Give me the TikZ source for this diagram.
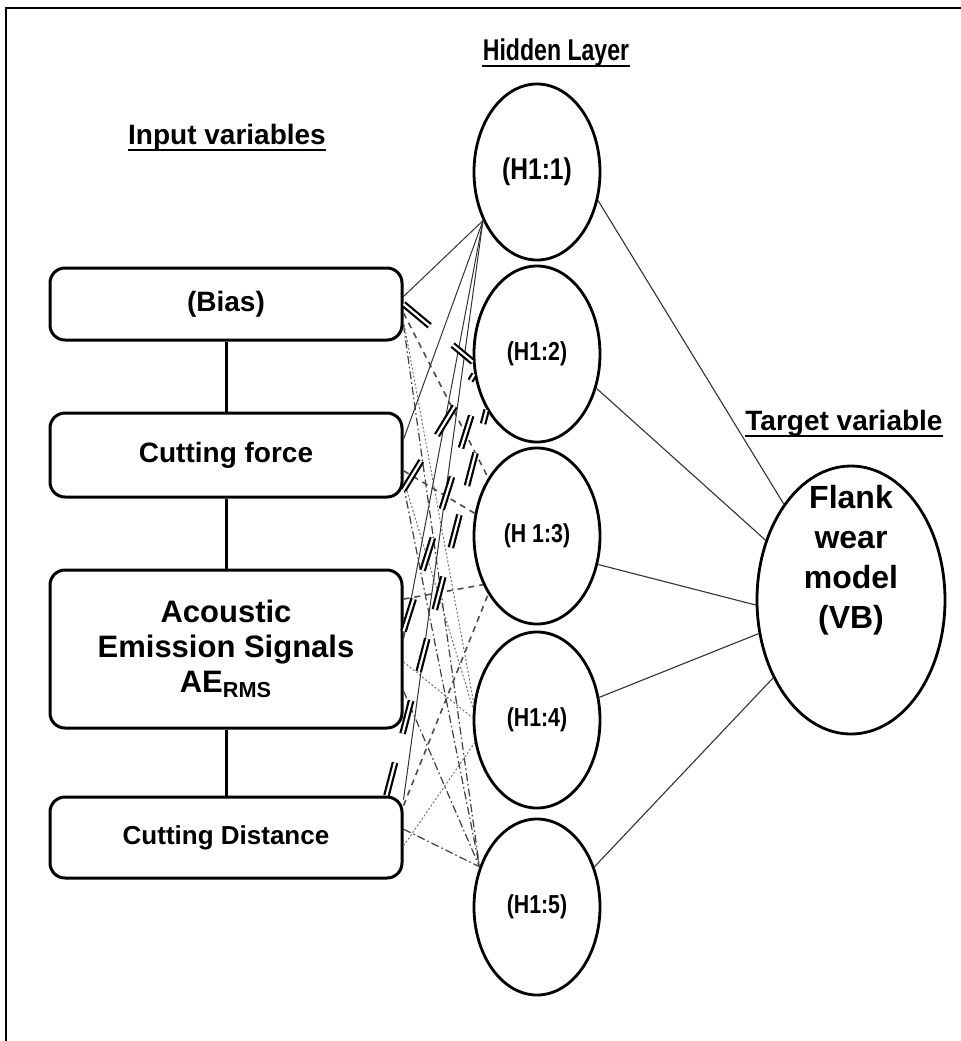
\documentclass[tikz,border=0pt]{standalone}
\usepackage{fontspec}
\usepackage{graphicx}
\setmainfont{Liberation Sans}
\usetikzlibrary{shapes.geometric,calc}

\begin{document}
\begin{tikzpicture}[x=0.5pt,y=-0.5pt,
  inbox/.style={draw, line width=1.5pt, rounded corners=7.5pt, minimum width=176pt,
    inner sep=0pt, align=center, font=\bfseries\fontsize{14}{17.5}\selectfont},
  hid/.style={draw, ellipse, line width=1.4pt, minimum width=63pt, minimum height=88pt,
    inner sep=0pt, font=\bfseries\fontsize{13}{15}\selectfont},
  outn/.style={draw, ellipse, line width=1.4pt, minimum width=94pt, minimum height=134pt, inner sep=0pt},
  outtxt/.style={inner sep=0pt, align=center, font=\bfseries\fontsize{16}{20}\selectfont},
  title/.style={inner sep=0pt, font=\bfseries\fontsize{14}{16}\selectfont},
  uline/.style={line width=1.1pt},
  link/.style={line width=1.5pt},
  w1/.style={line width=0.5pt, black!80},
  w2/.style={draw=black, line width=1.1pt, double=white, double distance=1.1pt, dash pattern=on 17pt off 15pt},
  w3/.style={line width=0.8pt, black!70, dash pattern=on 3pt off 2.5pt},
  w4/.style={line width=0.5pt, black!55, dash pattern=on 1pt off 1pt},
  w5/.style={line width=0.6pt, black!75, dash pattern=on 4pt off 1.5pt on 0.8pt off 1.5pt},
  wout/.style={line width=0.55pt, black!80}
]
\useasboundingbox (0,0) rectangle (961,1041);
\fill[white] (0,0) rectangle (961,1041);

% frame
\draw[line width=1.1pt] (6,1041) -- (6,8) -- (961,8);

% titles
\node[title] (tin) at (227,137) {Input variables};
\node[title, font=\bfseries\fontsize{15}{17}\selectfont] (thid) at (556,53) {\scalebox{0.77}[1]{Hidden Layer}};
\node[title] (ttar) at (844,423) {Target variable};
\foreach \t in {tin,thid,ttar}
  \draw[uline] ([yshift=-2.8pt]\t.base west) -- ([yshift=-2.8pt]\t.base east);

% input boxes
\node[inbox, minimum height=36pt] (bias) at (226,304) {(Bias)};
\node[inbox, minimum height=42pt] (cf) at (226,455) {Cutting force};
\node[inbox, minimum height=79pt, font=\bfseries\fontsize{15.5}{17.5}\selectfont] (ae) at (226,649)
  {Acoustic\\Emission Signals\\AE\textsubscript{RMS}};
\node[inbox, minimum height=40.5pt, font=\bfseries\fontsize{13}{16}\selectfont] (cd) at (226,837.5) {Cutting Distance};

\draw[link] (bias) -- (cf);
\draw[link] (cf) -- (ae);
\draw[link] (ae) -- (cd);

% hidden layer
\node[hid, font=\bfseries\fontsize{15}{17}\selectfont] (h1) at (537,172) {\scalebox{0.82}[1]{(H1:1)}};
\node[hid] (h2) at (537,354) {\scalebox{0.82}[1]{(H1:2)}};
\node[hid] (h3) at (537,536) {\scalebox{0.82}[1]{(H 1:3)}};
\node[hid] (h4) at (537,720) {\scalebox{0.82}[1]{(H1:4)}};
\node[hid] (h5) at (537,907) {\scalebox{0.82}[1]{(H1:5)}};

% output
\node[outn] (out) at (851,600) {};
\node[outtxt] (outl) at (851,560) {Flank\\wear\\model\\(VB)};

% weights into H1:4
\draw[w4] ($(bias.north east)!0.72!(bias.south east)$) -- (h4.165);
\draw[w4] ($(cf.north east)!0.78!(cf.south east)$) -- (h4.170);
\draw[w4] ($(ae.north east)!0.58!(ae.south east)$) -- (h4.178);
\draw[w4] ($(cd.north east)!0.6!(cd.south east)$) -- (h4.200);

% weights into H1:5
\draw[w5] ($(bias.north east)!0.78!(bias.south east)$) -- (h5.145);
\draw[w5] ($(cf.north east)!0.85!(cf.south east)$) -- (h5.145);
\draw[w5] ($(ae.north east)!0.76!(ae.south east)$) -- (h5.145);
\draw[w5] ($(cd.north east)!0.4!(cd.south east)$) -- (h5.145);

% weights into H1:3
\draw[w3] ($(bias.north east)!0.62!(bias.south east)$) -- (h3.130);
\draw[w3] ($(cf.north east)!0.68!(cf.south east)$) -- (h3.160);
\draw[w3] ($(ae.north east)!0.19!(ae.south east)$) -- (h3.222);
\draw[w3] ($(cd.north east)!0.12!(cd.south east)$) -- (h3.230);

% weights into H1:1
\draw[w1] ($(bias.north east)!0.4!(bias.south east)$) -- (h1.222);
\draw[w1] ($(cf.north east)!0.32!(cf.south east)$) -- (h1.222);
\draw[w1] ($(ae.north east)!0.44!(ae.south east)$) -- (h1.222);
\draw[w1] ($(cd.north east)!0.05!(cd.south east)$) -- (h1.222);

% weights into H1:2
\draw[w2] ($(bias.north east)!0.5!(bias.south east)$) -- (h2.187);
\draw[w2] ($(cf.north east)!0.9!(cf.south east)$) -- (h2.198);
\draw[w2] ($(ae.north east)!0.39!(ae.south east)$) -- (h2.213);
\draw[w2] ($(cd.north east)+(-17,0)$) -- (h2.228);

% hidden to output
\draw[wout] (h1.-25) -- (out.125);
\draw[wout] (h2.-30) -- (out.145);
\draw[wout] (h3.-25) -- (out.183);
\draw[wout] (h4.20) -- (out.200);
\draw[wout] (h5.35) -- (out.225);
\end{tikzpicture}
\end{document}
